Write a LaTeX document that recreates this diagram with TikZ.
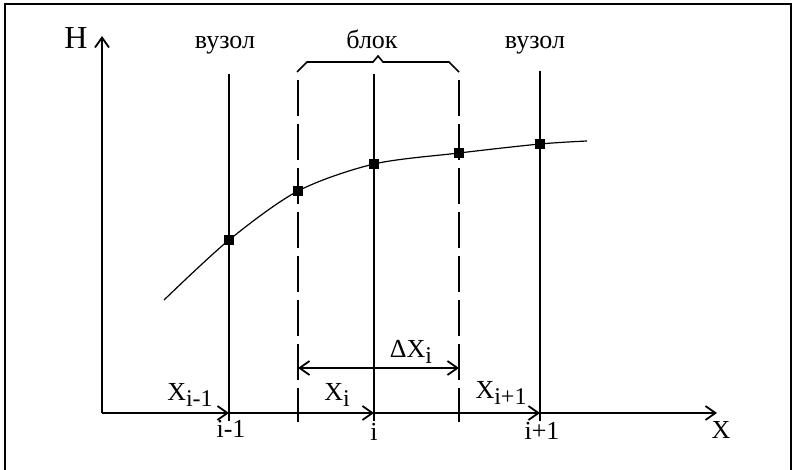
\documentclass[tikz,border=0pt]{standalone}
\usepackage{fontspec}
\setmainfont{Liberation Serif}
\usetikzlibrary{arrows.meta}

\newcommand{\lowidx}[1]{\raisebox{-3pt}{\fontsize{12}{13}\selectfont #1}}

\tikzset{
  lbl/.style={font=\fontsize{13}{15}\selectfont, inner sep=0pt, anchor=base},
  solidline/.style={line width=0.9pt},
  cellline/.style={line width=0.9pt, dash pattern=on 18pt off 4pt},
  knot/.style={fill=black, draw=none, minimum size=4.6pt, inner sep=0pt},
}

\begin{document}
\begin{tikzpicture}[x=0.5pt, y=-0.5pt, >={Straight Barb[length=5pt,width=7pt]}]
  \useasboundingbox (0,0) rectangle (796,470);
  \draw[line width=1pt] (5,470) -- (5,4) -- (791,4) -- (791,470);

  % axes
  \coordinate (O) at (102,413);
  \coordinate (Htip) at (102,36);
  \coordinate (Xtip) at (717,413);
  \coordinate (b1) at (229,413);
  \coordinate (b2) at (374,413);
  \coordinate (b3) at (540,413);
  \draw[solidline, ->] (O) -- (Htip);
  \draw[solidline, ->] (O) -- (b1);
  \draw[solidline, ->] (b1) -- (b2);
  \draw[solidline, ->] (b2) -- (b3);
  \draw[solidline, ->] (b3) -- (Xtip);
  \node[lbl, font=\fontsize{16}{18}\selectfont] (H) at (76,49) {H};
  \node[lbl] (X) at (721,438) {X};

  % grid lines
  \coordinate (t1) at (229,74);  \coordinate (e1) at (229,421);
  \coordinate (t2) at (374,74);  \coordinate (e2) at (374,421);
  \coordinate (t3) at (540,71);  \coordinate (e3) at (540,421);
  \coordinate (d1) at (298,80);  \coordinate (f1) at (298,422);
  \coordinate (d2) at (459,80);  \coordinate (f2) at (459,422);
  \draw[solidline] (t1) -- (e1);
  \draw[solidline] (t2) -- (e2);
  \draw[solidline] (t3) -- (e3);
  \draw[cellline] (d1) -- (f1);
  \draw[cellline] (d2) -- (f2);

  % block brace
  \draw[line width=0.8pt] (297,72) -- (307,62) -- (373,62) -- (378,56)
    -- (383,62) -- (449,62) -- (459,72);
  \node[lbl] (node1) at (225,49) {вузол};
  \node[lbl] (block) at (372,49) {блок};
  \node[lbl] (node2) at (535,49) {вузол};

  % curve and knots
  \coordinate (c0) at (164,300);
  \node[knot] (k1) at (229,240) {};
  \node[knot] (k2) at (298,191) {};
  \node[knot] (k3) at (374,164) {};
  \node[knot] (k4) at (459,153) {};
  \node[knot] (k5) at (540,144) {};
  \coordinate (c6) at (587,141);
  \draw[line width=0.6pt] plot[smooth, tension=0.5] coordinates
    {(c0) (k1.center) (k2.center) (k3.center) (k4.center) (k5.center) (c6)};

  % cell width
  \coordinate (w1) at (298,368);
  \coordinate (w2) at (459,368);
  \draw[solidline, <->] (w1) -- (w2);
  \node[lbl] (dx) at (411,357) {ΔX\lowidx{i}};

  % labels on the axis
  \node[lbl] (x1) at (190,400) {X\lowidx{i-1}};
  \node[lbl] (x2) at (337,400) {X\lowidx{i}};
  \node[lbl] (x3) at (501,398) {X\lowidx{i+1}};
  \node[lbl] (i1) at (231,437) {i-1};
  \node[lbl] (i2) at (374,440) {i};
  \node[lbl] (i3) at (542,439) {i+1};
\end{tikzpicture}
\end{document}
